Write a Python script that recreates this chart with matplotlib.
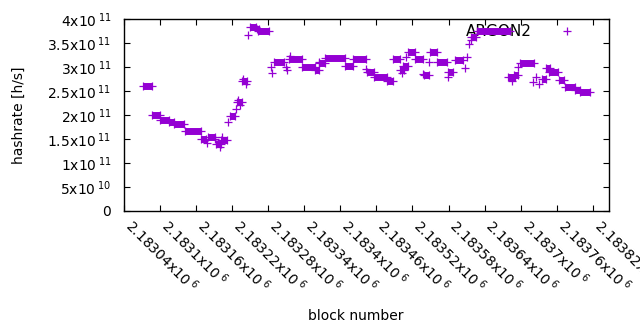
import matplotlib
matplotlib.use("Agg")
import matplotlib.pyplot as plt
import matplotlib.transforms as mtransforms
from matplotlib.lines import Line2D

# runs of blocks that share the same hashrate estimate
run_start = [2183072, 2183087, 2183100, 2183115, 2183123, 2183141, 2183168, 2183180,
             2183193, 2183202, 2183217, 2183228, 2183237, 2183250, 2183261, 2183263,
             2183289, 2183315, 2183337, 2183358, 2183365, 2183374, 2183408, 2183421,
             2183444, 2183456, 2183477, 2183488, 2183499, 2183504, 2183513, 2183524,
             2183539, 2183549, 2183560, 2183579, 2183590, 2183618, 2183627, 2183679,
             2183689, 2183699, 2183735, 2183742, 2183747, 2183764, 2183773, 2183790,
             2183798]
run_end = [2183086, 2183100, 2183115, 2183123, 2183140, 2183168, 2183176, 2183191,
           2183202, 2183212, 2183225, 2183236, 2183244, 2183260, 2183264, 2183282,
           2183306, 2183337, 2183358, 2183364, 2183374, 2183408, 2183421, 2183442,
           2183456, 2183477, 2183488, 2183499, 2183506, 2183513, 2183524, 2183538,
           2183548, 2183561, 2183577, 2183588, 2183604, 2183625, 2183682, 2183690,
           2183695, 2183723, 2183743, 2183748, 2183762, 2183772, 2183790, 2183798,
           2183816]
run_hashrate = [2.60e11, 2.01e11, 1.90e11, 1.86e11, 1.81e11, 1.66e11, 1.49e11, 1.55e11,
                1.40e11, 1.48e11, 1.97e11, 2.28e11, 2.71e11, 3.84e11, 3.79e11, 3.74e11,
                3.11e11, 3.16e11, 2.99e11, 2.93e11, 3.08e11, 3.18e11, 3.02e11, 3.16e11,
                2.89e11, 2.79e11, 2.71e11, 3.16e11, 2.94e11, 3.02e11, 3.31e11, 3.16e11,
                2.83e11, 3.32e11, 3.11e11, 2.89e11, 3.14e11, 3.63e11, 3.75e11, 2.79e11,
                2.83e11, 3.08e11, 2.74e11, 2.97e11, 2.90e11, 2.73e11, 2.59e11, 2.52e11,
                2.47e11]

# single blocks
pt_block = [2183178, 2183191, 2183200, 2183203, 2183213, 2183227, 2183229, 2183233,
            2183238, 2183243, 2183247, 2183284, 2183287, 2183309, 2183311, 2183317,
            2183365, 2183442, 2183503, 2183510, 2183538, 2183548, 2183579, 2183607,
            2183611, 2183614, 2183617, 2183686, 2183696, 2183721, 2183725, 2183731]
pt_hashrate = [1.42e11, 1.49e11, 1.34e11, 1.54e11, 1.85e11, 2.12e11, 2.31e11, 2.21e11,
               2.74e11, 2.65e11, 3.67e11, 2.99e11, 2.88e11, 3.01e11, 2.94e11, 3.23e11,
               3.10e11, 2.95e11, 2.88e11, 3.20e11, 2.85e11, 3.11e11, 2.79e11, 2.97e11,
               3.21e11, 3.48e11, 3.56e11, 2.71e11, 3.01e11, 2.69e11, 2.79e11, 2.65e11]

x_ticks = [2183040 + 60 * k for k in range(14)]
x_tick_labels = ["2.18304", "2.1831", "2.18316", "2.18322", "2.18328", "2.18334",
                 "2.1834", "2.18346", "2.18352", "2.18358", "2.18364", "2.1837",
                 "2.18376", "2.18382"]
y_ticks = [0, 0.5e11, 1e11, 1.5e11, 2e11, 2.5e11, 3e11, 3.5e11, 4e11]
y_tick_labels = ["0", "5x10^{\\;10}", "1x10^{\\;11}", "1.5x10^{\\;11}", "2x10^{\\;11}",
                 "2.5x10^{\\;11}", "3x10^{\\;11}", "3.5x10^{\\;11}", "4x10^{\\;11}"]

color = "#9400d3"

plt.rcParams["font.family"] = ["DejaVu Sans"]
plt.rcParams["mathtext.fontset"] = "dejavusans"
plt.rcParams["font.size"] = 10

fig = plt.figure(figsize=(6.4, 3.3), dpi=100)
ax = fig.add_axes([124 / 640, 119 / 330, 485 / 640, 192 / 330])

for s, e, v in zip(run_start, run_end, run_hashrate):
    ax.plot([s, e], [v, v], color=color, linewidth=5.0, solid_capstyle="butt", zorder=2)
    ax.plot([s, e], [v, v], linestyle="none", marker="+", markersize=5.2,
            markeredgewidth=0.9, color=color, zorder=2)

ax.plot(pt_block, pt_hashrate, linestyle="none", marker="+", markersize=5.2,
        markeredgewidth=0.9, color=color, zorder=2)

ax.set_xlim(2183040, 2183847)
ax.set_ylim(0, 4e11)

# rotated x labels, drawn by hand so they start right at the tick
ax.set_xticks(x_ticks)
ax.set_xticklabels([])
offset = mtransforms.ScaledTranslation(11 / 100, -5 / 100, fig.dpi_scale_trans)
for xv, t in zip(x_ticks, x_tick_labels):
    ax.text(xv, 0, r"$\mathregular{" + t + r"x10^{\;6}}$",
            transform=ax.get_xaxis_transform() + offset,
            rotation=-45, rotation_mode="anchor", ha="left", va="top", clip_on=False)

ax.set_yticks(y_ticks)
ax.set_yticklabels([r"$\mathregular{" + t + "}$" for t in y_tick_labels])

ax.tick_params(direction="in", top=True, right=True, length=4, width=0.8)
ax.tick_params(axis="y", pad=9)
for sp in ax.spines.values():
    sp.set_linewidth(1.0)

ax.set_ylabel("hashrate [h/s]")
ax.yaxis.set_label_coords(-0.202, 0.5)
ax.set_xlabel("block number")
ax.xaxis.set_label_coords(0.478, -0.51)

handle = Line2D([], [], linestyle="none", marker="+", markersize=5.2,
                markeredgewidth=0.9, color=color)
leg = ax.legend([handle], ["ARGON2"], loc="upper right", bbox_to_anchor=(0.9938, 1.0),
                frameon=False, markerfirst=False, handlelength=4.4, handletextpad=0.1,
                borderaxespad=0, borderpad=0.35, fontsize=11)
leg.set_zorder(1)

fig.savefig("out.png", dpi=100)
